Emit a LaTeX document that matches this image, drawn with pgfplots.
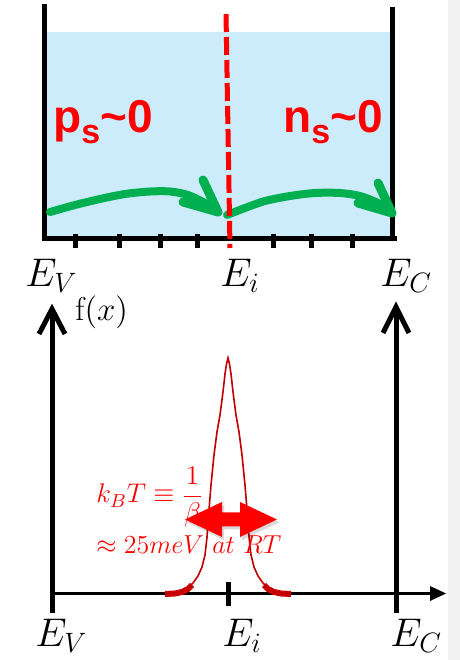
\RequirePackage{fix-cm}
\documentclass[border=0pt]{standalone}
\usepackage{fontspec}
\usepackage{amsmath}
\usepackage{pgfplots}
\pgfplotsset{compat=1.18}
\newfontfamily\lsans{Liberation Sans}
\definecolor{skyb}{RGB}{204,236,252}
\definecolor{grn}{RGB}{0,176,80}
\definecolor{dred}{RGB}{192,0,0}
\definecolor{tailred}{RGB}{204,0,0}
\definecolor{stripe}{RGB}{242,242,242}

\begin{document}
\begin{tikzpicture}
\begin{axis}[
  width=230pt, height=330pt, scale only axis,
  xmin=0, xmax=460, ymin=0, ymax=660,
  hide axis, clip=false,
]
% frame of the picture and grey strip on the right
\addplot[draw=none] coordinates {(0,0) (460,660)};
\addplot[fill=stripe, draw=none] coordinates {(448,0) (460,0) (460,660) (448,660)};

% ---- top panel ----
\addplot[fill=skyb, draw=none] coordinates {(46,422) (390,422) (390,628) (46,628)};
\addplot[black, line width=2.5pt] coordinates {(44,656) (44,420)};
\addplot[black, line width=2.5pt] coordinates {(392,653) (392,420)};
\addplot[black, line width=2.5pt] coordinates {(42,421.5) (397,421.5)};
\foreach \t in {75,119,160,197,273,311,352} {
  \edef\temp{\noexpand\addplot[black, line width=2.5pt] coordinates {(\t,426) (\t,412)};}
  \temp
}
% green arrows
\addplot[grn, line width=4pt, smooth, line cap=round] coordinates {
  (50,448) (75,455) (100,461) (125,466) (150,468.5) (170,468.5) (188,465) (205,457) (217,449)};
\addplot[grn, line width=4.5pt, line cap=round, line join=round] coordinates {(203,480) (218,448) (183,458)};
\addplot[grn, line width=4pt, smooth, line cap=round] coordinates {
  (227,445) (245,452) (265,459) (290,464) (315,467) (340,467) (360,464) (378,457) (391,448)};
\addplot[grn, line width=4.5pt, line cap=round, line join=round] coordinates {(378,477) (392,447) (358,457)};
% red dashed line
\addplot[red, line width=2.5pt, dash pattern=on 9pt off 2.5pt] coordinates {(226,646) (230,412)};
% texts
\node[anchor=base west, inner sep=0pt, text=red] at (axis cs:53,527)
  {\fontsize{23}{27}\lsans\bfseries p\raisebox{-5.5pt}{\fontsize{17}{20}\selectfont s}\textasciitilde 0};
\node[anchor=base west, inner sep=0pt, text=red] at (axis cs:283,527)
  {\fontsize{23}{27}\lsans\bfseries n\raisebox{-5.5pt}{\fontsize{17}{20}\selectfont s}\textasciitilde 0};
\node[anchor=base west, inner sep=0pt] at (axis cs:25,373) {\fontsize{20}{24}\selectfont $E_V$};
\node[anchor=base west, inner sep=0pt] at (axis cs:220,373) {\fontsize{20}{24}\selectfont $E_i$};
\node[anchor=base west, inner sep=0pt] at (axis cs:380,373) {\fontsize{20}{24}\selectfont $E_C$};

% ---- bottom panel ----
\addplot[black, line width=1.7pt] coordinates {(52,66.5) (432,66.5)};
\addplot[fill=black, draw=none] coordinates {(430,74) (446,66.5) (430,59)};
\addplot[black, line width=2.5pt] coordinates {(52,47) (52,348)};
\addplot[black, line width=2.5pt, line join=miter] coordinates {(39,326) (52,351) (65,326)};
\addplot[black, line width=2.5pt] coordinates {(396,47) (396,348)};
\addplot[black, line width=2.5pt, line join=miter] coordinates {(383,327) (396,353) (409,327)};
\addplot[black, line width=2.5pt] coordinates {(228,78) (228,54)};
% distribution peak
\addplot[tailred, line width=3pt] coordinates {(165,66) (175,66.5) (182,68) (188,71) (192,75)};
\addplot[tailred, line width=3pt] coordinates {(264,75) (268,71) (274,68) (281,66.5) (291,66)};
\addplot[dred, line width=0.8pt] coordinates {
  (165,66) (175,67) (182,69) (188,72) (193,77) (198,84) (202,93) (205,105)
  (207,123) (209,150) (211,175) (212.5,190) (214,205) (217,228) (220,245)
  (223,268) (225,286) (226.5,296) (228,302)
  (229.5,296) (231,286) (233,268) (236,245) (239,228) (242,205) (243.5,190)
  (245,175) (247,150) (249,123) (251,105) (254,93) (258,84) (263,77)
  (268,72) (274,69) (281,67) (291,66)};
% labels
\node[anchor=base west, inner sep=0pt, text=red] at (axis cs:96,157)
  {\fontsize{13.5}{15}\selectfont $k_BT\equiv\dfrac{1}{\beta}$};
\node[anchor=base west, inner sep=0pt, text=red] at (axis cs:96,106)
  {\fontsize{13}{15}\selectfont $\approx 25meV\ at\ RT$};
% double arrow with shadow
\addplot[fill=black, fill opacity=0.15, draw=none] coordinates {
  (187,137.5) (224,155) (224,144.5) (242,144.5) (242,155) (279,137.5)
  (242,120) (242,130.5) (224,130.5) (224,120)};
\addplot[fill=red, draw=none] coordinates {
  (185,140.5) (222,158) (222,147.5) (240,147.5) (240,158) (277,140.5)
  (240,123) (240,133.5) (222,133.5) (222,123)};
\node[anchor=base west, inner sep=0pt] at (axis cs:75,339) {\fontsize{16.5}{19}\selectfont $\mathrm{f}(x)$};
\node[anchor=base west, inner sep=0pt] at (axis cs:35,13) {\fontsize{20}{24}\selectfont $E_V$};
\node[anchor=base west, inner sep=0pt] at (axis cs:222,13) {\fontsize{20}{24}\selectfont $E_i$};
\node[anchor=base west, inner sep=0pt] at (axis cs:390,13) {\fontsize{20}{24}\selectfont $E_C$};
\end{axis}
\end{tikzpicture}
\end{document}
